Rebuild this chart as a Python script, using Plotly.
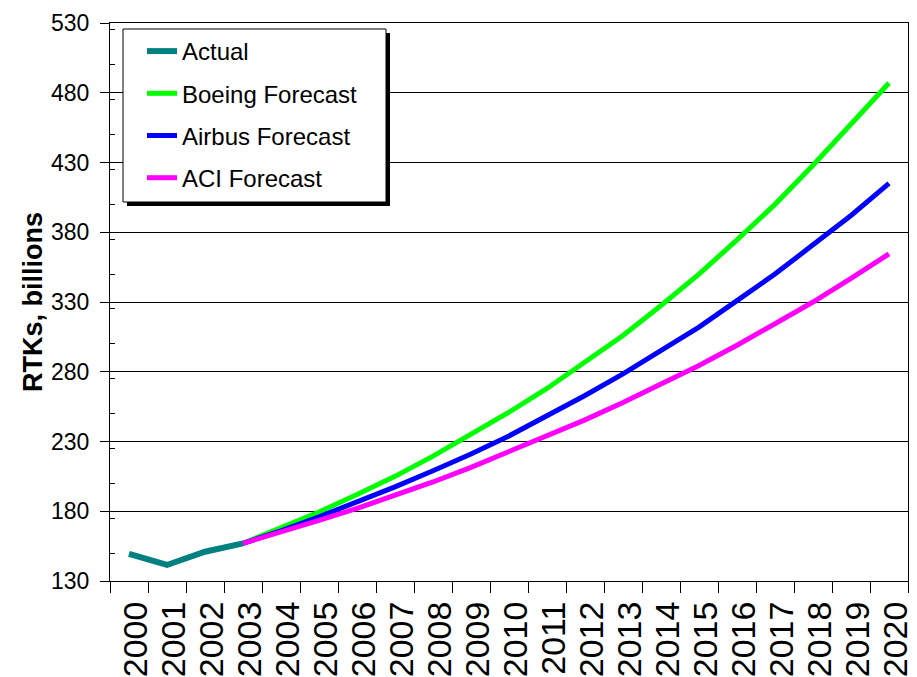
import plotly.graph_objects as go

years = [str(y) for y in range(2000, 2021)]

actual_years = ["2000", "2001", "2002", "2003"]
actual_vals = [149.5, 141.5, 151, 157]

fc_years = [str(y) for y in range(2003, 2021)]
boeing_vals = [157, 168, 179.5, 192, 205, 219.5, 235, 251, 268, 286.5, 306, 327.5, 350, 374.5, 400, 428, 457, 487]
airbus_vals = [157, 166, 176, 186.5, 197.5, 209, 221, 234, 248, 263, 278.5, 295, 312, 331, 350, 371, 392, 415]
aci_vals = [157, 165, 173.5, 182, 191.5, 201, 211.5, 223, 234, 245.5, 258, 271, 284.5, 299, 314, 330, 347, 364.5]

W, H = 917, 677
L, R, T, B = 110, 908, 23, 581


def px2x(px):
    return (px - L) / (R - L)


def px2y(py):
    return (B - py) / (B - T)


REG = "Liberation Sans, Arial, sans-serif"

fig = go.Figure()
series = [
    ("Actual", actual_years, actual_vals, "#008080", 6),
    ("Boeing Forecast", fc_years, boeing_vals, "#00FF00", 5),
    ("Airbus Forecast", fc_years, airbus_vals, "#0000FF", 5),
    ("ACI Forecast", fc_years, aci_vals, "#FF00FF", 5),
]
for name, xs, ys, col, lw in series:
    fig.add_trace(go.Scatter(
        x=xs, y=ys, mode="lines", name=name, legendgroup=name,
        line=dict(color=col, width=lw),
    ))

# legend box and shadow
fig.add_shape(type="rect", xref="paper", yref="paper",
              x0=px2x(127), x1=px2x(390), y0=px2y(206), y1=px2y(33),
              fillcolor="black", line=dict(width=0), layer="above")
fig.add_shape(type="rect", xref="paper", yref="paper",
              x0=px2x(123), x1=px2x(386), y0=px2y(202), y1=px2y(29),
              fillcolor="white", line=dict(color="black", width=1), layer="above")

fig.add_annotation(text="<b>SOURCES</b>", xref="paper", yref="paper",
                   x=px2x(50), y=px2y(671), xanchor="left", yanchor="top",
                   showarrow=False, font=dict(family=REG, size=15, color="black"))

fig.update_layout(
    width=W, height=H,
    margin=dict(l=L, r=W - R, t=T, b=H - B, pad=0, autoexpand=False),
    paper_bgcolor="white", plot_bgcolor="white",
    showlegend=True,
    legend=dict(
        x=px2x(142), y=px2y(29), xanchor="left", yanchor="top",
        bgcolor="rgba(0,0,0,0)", borderwidth=0,
        font=dict(family=REG, size=24, color="black"),
        tracegroupgap=8, traceorder="grouped", itemwidth=30,
    ),
    xaxis=dict(
        type="category", categoryorder="array", categoryarray=years,
        range=[-0.5, 20.5], tickmode="array", tickvals=years, ticktext=years,
        tickson="boundaries", ticks="outside", ticklen=11, tickcolor="black",
        tickangle=-90, tickfont=dict(family=REG, size=34, color="black"),
        ticklabelstandoff=6, ticklabelshift=7, automargin=False,
        showgrid=False, showline=True, linecolor="black", linewidth=1,
        mirror=True, zeroline=False,
    ),
    yaxis=dict(
        range=[130, 530], dtick=50, tick0=130,
        ticks="outside", ticklen=9, tickcolor="black",
        minor=dict(dtick=25, ticks="inside", ticklen=5, tickcolor="black", showgrid=False),
        tickfont=dict(family=REG, size=23, color="black"),
        ticklabelstandoff=6, automargin=False,
        showgrid=True, gridcolor="black", gridwidth=1,
        showline=True, linecolor="black", linewidth=1, mirror=True,
        zeroline=False,
        title=dict(text="<b>RTKs, billions</b>", font=dict(family=REG, size=27, color="black"), standoff=0),
    ),
)

fig.write_html("out.html")
